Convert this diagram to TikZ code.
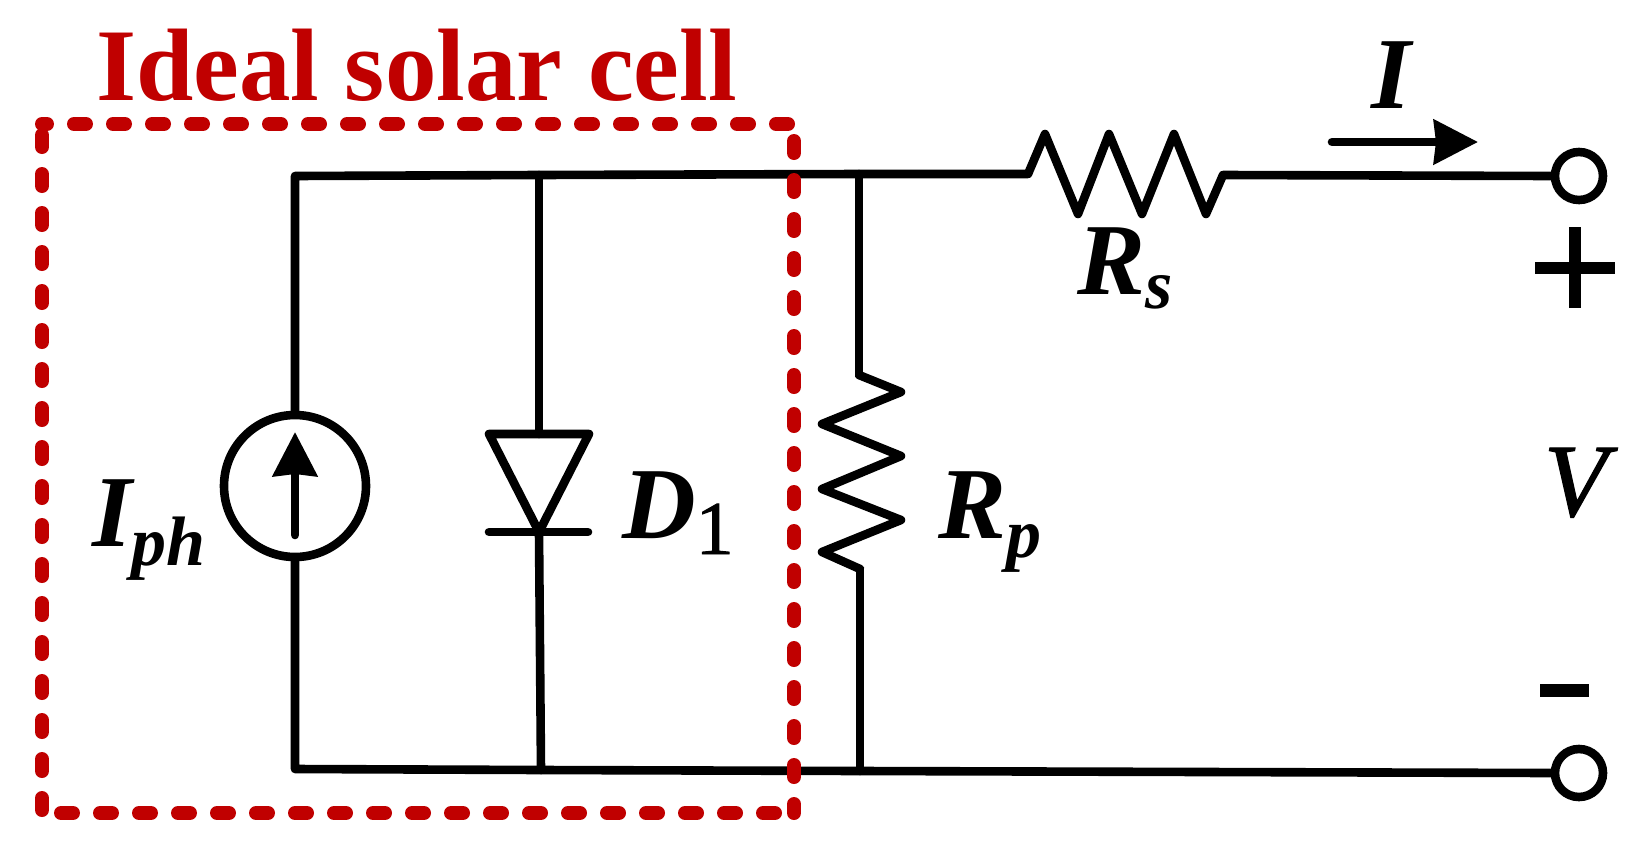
\documentclass[tikz,border=0pt]{standalone}
\usepackage{fontspec}
\setmainfont{Liberation Serif}
\usetikzlibrary{arrows.meta}
\definecolor{cellred}{HTML}{C00000}
\newcommand{\bigbi}[1]{{\fontsize{102}{104}\selectfont\bfseries\itshape #1}}
\newfontfamily\heavyserif[FakeBold=1.2]{Liberation Serif}
\tikzset{
  wire/.style={draw=black,line width=8.6pt,line join=round,line cap=round},
  sym/.style={draw=black,line width=8.6pt,circle,inner sep=0pt,fill=white},
  lab/.style={anchor=base west,inner sep=0pt,outer sep=0pt,text=black},
  cellbox/.style={draw=cellred,line width=14pt,line cap=round,dash pattern=on 12pt off 27pt},
  arrowtip/.style={-{Stealth[length=#1,width=44pt,inset=2pt]}}
}
\begin{document}
\begin{tikzpicture}[x=1pt,y=-1pt]
\useasboundingbox (0,0) rectangle (1650,849);
\fill[white] (0,0) rectangle (1650,849);

% nodes
\node[sym,minimum size=142pt] (src) at (295,486) {};
\node[sym,minimum size=48pt] (tp) at (1579,176) {};
\node[sym,minimum size=48pt] (tn) at (1579,773) {};
\coordinate (tl) at (295,176);
\coordinate (bl) at (295,769);
\coordinate (dt) at (539,175);
\coordinate (db) at (541,770);
\coordinate (da) at (539,434);
\coordinate (dk) at (539,532);
\coordinate (rpt) at (859,174);
\coordinate (rpb) at (860,771);
\coordinate (rp1) at (859,375);
\coordinate (rp2) at (860,569);
\coordinate (rs1) at (1028,174);
\coordinate (rs2) at (1223,175);

% wiring
\draw[wire] (src.north) -- (tl) -- (dt) -- (rpt) -- (rs1);
\draw[wire] (src.south) -- (bl) -- (db) -- (rpb) -- (tn.west);
\draw[wire] (dt) -- (da);
\draw[wire] (dk) -- (db);
\draw[wire] (rpt) -- (rp1);
\draw[wire] (rp2) -- (rpb);
\draw[wire] (rs2) -- (tp.west);

% series resistor
\draw[wire] (rs1) -- (1045,134) -- (1078,214) -- (1109,134) -- (1142,214) -- (1174,134) -- (1206,214) -- (rs2);
% parallel resistor
\draw[wire] (rp1) -- (901,392) -- (822,424) -- (901,456) -- (822,489) -- (901,520) -- (822,552) -- (rp2);

% diode
\draw[wire] (da) -- (589,434) -- (dk) -- (489,434) -- cycle;
\draw[wire] (489,532) -- (588,532);

% arrows
\coordinate (sa) at (295,535);
\coordinate (sb) at (295,432);
\draw[line width=8.6pt,line cap=round,arrowtip=44pt] (sa) -- (sb);
\coordinate (ia) at (1332,142);
\coordinate (ib) at (1478,142);
\draw[line width=8.6pt,line cap=round,arrowtip=44pt] (ia) -- (ib);

% plus / minus
\coordinate (ph1) at (1535,268);
\coordinate (ph2) at (1615,268);
\coordinate (pv1) at (1575,227);
\coordinate (pv2) at (1575,308);
\draw[line width=12pt] (ph1) -- (ph2);
\draw[line width=12pt] (pv1) -- (pv2);
\coordinate (m1) at (1540,690);
\coordinate (m2) at (1589,690);
\draw[line width=13pt] (m1) -- (m2);

% dashed box
\coordinate (bTL) at (42,124);
\coordinate (bTR) at (790,124);
\coordinate (bRT) at (794,141);
\coordinate (bRB) at (794,813);
\coordinate (bBL) at (61,813);
\coordinate (bBR) at (776,813);
\coordinate (bLT) at (42,135);
\coordinate (bLB) at (42,811);
\draw[cellbox,dash phase=7pt] (bTL) -- (bTR);
\draw[cellbox] (bRT) -- (bRB);
\draw[cellbox] (bBL) -- (bBR);
\draw[cellbox] (bLT) -- (bLB);

% labels
\node[lab,text=cellred] (title) at (96,100) {\fontsize{103}{105}\selectfont\bfseries Ideal solar cell};
\node[lab] (lI) at (1371,108) {\bigbi{I}};
\node[lab] (lRs) at (1077,294) {\bigbi{R}\lower14pt\hbox{\fontsize{70}{72}\selectfont\bfseries\itshape s}};
\node[lab] (lV) at (1544,516) {{\fontsize{104}{106}\selectfont\heavyserif\itshape V}};
\node[lab] (lRp) at (938,538) {\bigbi{R}\lower19pt\hbox{\fontsize{70}{72}\selectfont\bfseries\itshape p}};
\node[lab] (lD) at (622,538) {\bigbi{D}\lower16pt\hbox{\fontsize{76}{78}\selectfont\heavyserif 1}};
\node[lab] (lIph) at (92,546) {\bigbi{I}\lower19pt\hbox{\fontsize{70}{72}\selectfont\bfseries\itshape ph}};
\end{tikzpicture}
\end{document}
